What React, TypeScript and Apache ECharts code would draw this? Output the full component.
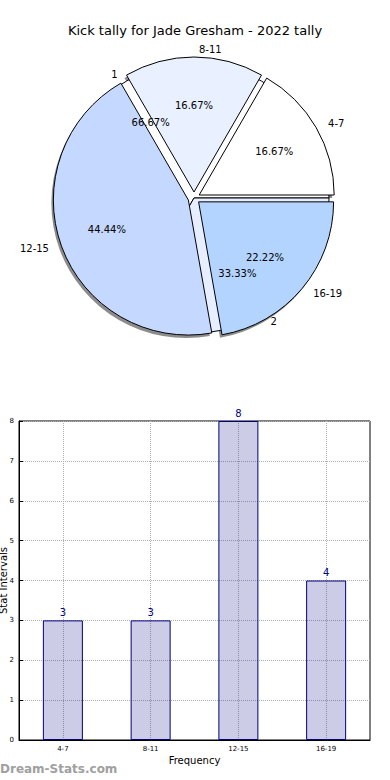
import React, { useEffect, useRef } from "react";
import * as echarts from "echarts";

const TITLE = "Kick tally for Jade Gresham - 2022 tally";
const categories = ["4-7", "8-11", "12-15", "16-19"];
const kickValues = [3, 3, 8, 4];
const sliceColors = ["#ffffff", "#e9f0ff", "#c5d8ff", "#b3d4ff"];
const overlayNames = ["1", "2"];
const overlayValues = [12, 6];
const overlayColors = ["#ffffff", "#e6eeff"];
const yTicks = [0, 1, 2, 3, 4, 5, 6, 7, 8];

const FONT = "DejaVu Sans";
const CX = 194;
const CY = 198;
const R = 135;
const EXPLODE = 6;

export default function App() {
  const ref = useRef<HTMLDivElement>(null);
  useEffect(() => {
    if (!ref.current) return;
    const chart = echarts.init(ref.current, null, { renderer: "svg" });
    const mainData = categories.map((c, i) => ({
      name: c,
      value: kickValues[i],
      selected: true,
      itemStyle: { color: sliceColors[i] },
    }));
    const overlayData = overlayNames.map((n, i) => ({
      name: n,
      value: overlayValues[i],
      itemStyle: { color: overlayColors[i] },
    }));
    const pieCommon = {
      type: "pie",
      center: [CX, CY],
      startAngle: 0,
      clockwise: false,
      avoidLabelOverlap: false,
      emphasis: { disabled: true },
      labelLine: { show: false, length: 8, length2: 0 },
    };
    chart.setOption({
      animation: false,
      textStyle: { fontFamily: FONT },
      title: {
        text: TITLE,
        left: "center",
        top: 19,
        textStyle: { fontSize: 13, fontWeight: "normal", color: "#000", fontFamily: FONT },
      },
      graphic: [
        {
          type: "text",
          left: 0,
          top: 763,
          style: {
            text: "Dream-Stats.com",
            fontSize: 12,
            fontWeight: "bold",
            fill: "#a0a0a0",
            fontFamily: FONT,
          },
        },
      ],
      grid: {
        left: 19,
        right: 20,
        top: 421,
        bottom: 40,
        outerBoundsMode: "none",
        containLabel: false,
        show: true,
        borderColor: "#000",
        borderWidth: 1,
        backgroundColor: "transparent",
      },
      xAxis: {
        type: "category",
        data: categories,
        boundaryGap: true,
        name: "Frequency",
        nameLocation: "middle",
        nameGap: 15,
        nameMoveOverlap: false,
        nameTextStyle: { fontSize: 10, color: "#000" },
        axisLine: { lineStyle: { color: "#000" } },
        axisTick: { inside: true, length: 4, alignWithLabel: true, lineStyle: { color: "#000" } },
        axisLabel: { fontSize: 7, color: "#000", margin: 5 },
        splitLine: {
          show: true,
          alignWithLabel: true,
          lineStyle: { color: "#b0b0b0", type: "dotted", width: 1 },
        },
      },
      yAxis: {
        type: "value",
        min: 0,
        max: 8,
        interval: 1,
        name: "Stat Intervals",
        nameLocation: "middle",
        nameGap: 11,
        nameMoveOverlap: false,
        nameTextStyle: { fontSize: 10, color: "#000" },
        axisLine: { show: true, lineStyle: { color: "#000" } },
        axisTick: { show: true, inside: true, length: 4, lineStyle: { color: "#000" } },
        axisLabel: {
          fontSize: 7,
          color: "#000",
          margin: 5,
          formatter: (v: number) => (yTicks.includes(v) ? String(v) : ""),
        },
        splitLine: { show: true, lineStyle: { color: "#b0b0b0", type: "dotted", width: 1 } },
      },
      series: [
        {
          ...pieCommon,
          center: [CX - 2, CY + 3],
          radius: R,
          data: mainData.map((d) => ({ ...d, itemStyle: { color: "#8c8c8c" } })),
          selectedMode: "multiple",
          selectedOffset: EXPLODE,
          silent: true,
          itemStyle: { borderWidth: 0 },
          label: { show: false },
        },
        {
          ...pieCommon,
          radius: R,
          data: overlayData,
          silent: true,
          itemStyle: { borderColor: "#000", borderWidth: 1 },
          label: {
            show: true,
            position: "outside",
            formatter: "{b}",
            fontSize: 10,
            color: "#000",
            distanceToLabelLine: 5,
          },
        },
        {
          ...pieCommon,
          radius: R,
          data: mainData,
          selectedMode: "multiple",
          selectedOffset: EXPLODE,
          silent: true,
          itemStyle: { borderColor: "#000", borderWidth: 1 },
          label: {
            show: true,
            position: "outside",
            formatter: "{b}",
            fontSize: 10,
            color: "#000",
            distanceToLabelLine: 5,
          },
        },
        {
          ...pieCommon,
          radius: R * 1.24,
          data: overlayData.map((d) => ({ ...d, itemStyle: { color: "transparent" } })),
          silent: true,
          itemStyle: { color: "transparent", borderWidth: 0 },
          label: { show: true, position: "inside", formatter: "{d}%", fontSize: 10, color: "#000" },
        },
        {
          ...pieCommon,
          radius: R * 1.24,
          data: mainData.map((d) => ({ ...d, itemStyle: { color: "transparent" } })),
          selectedMode: "multiple",
          selectedOffset: EXPLODE,
          silent: true,
          itemStyle: { color: "transparent", borderWidth: 0 },
          label: { show: true, position: "inside", formatter: "{d}%", fontSize: 10, color: "#000" },
        },
        {
          type: "bar",
          data: kickValues,
          barWidth: 40,
          itemStyle: { color: "rgba(0,0,128,0.2)", borderColor: "#000080", borderWidth: 1 },
          label: { show: true, position: "top", fontSize: 10, color: "#000080", distance: 3 },
          emphasis: { disabled: true },
        },
      ],
    });
    return () => chart.dispose();
  }, []);
  return (
    <div
      ref={ref}
      style={{ position: "absolute", left: 0, top: 0, width: 390, height: 780, background: "#fff" }}
    />
  );
}
